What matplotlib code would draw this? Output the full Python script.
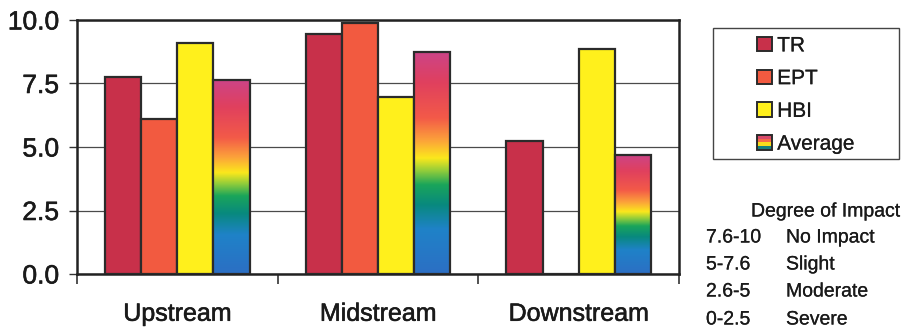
import numpy as np
import matplotlib
matplotlib.use("Agg")
import matplotlib.pyplot as plt
import matplotlib.patheffects as pe
from matplotlib.colors import LinearSegmentedColormap
from matplotlib.patches import Rectangle
from matplotlib.legend_handler import HandlerBase

plt.rcParams['font.family'] = ['Liberation Sans', 'DejaVu Sans']

# Data
sites = ["Upstream", "Midstream", "Downstream"]
series = ["TR", "EPT", "HBI", "Average"]
tr = [7.75, 9.45, 5.25]
ept = [6.1, 9.9, 0.0]
hbi = [9.1, 6.95, 8.85]
average = [7.65, 8.75, 4.7]
yticks = [0.0, 2.5, 5.0, 7.5, 10.0]
impact_ranges = ["7.6-10", "5-7.6", "2.6-5", "0-2.5"]
impact_labels = ["No Impact", "Slight", "Moderate", "Severe"]

solid_colors = ["#c8304a", "#f25a40", "#fff01c"]
edge = "#2b2b2b"
ink = "#1a1a1a"
heavy = [pe.withStroke(linewidth=0.4, foreground=ink)]
light = [pe.withStroke(linewidth=0.15, foreground=ink)]

# Rainbow fill used for the Average bars (bottom -> top)
rainbow = LinearSegmentedColormap.from_list("rainbow_fill", [
    (0.00, "#2c6fc4"),
    (0.20, "#1f82c8"),
    (0.31, "#08897e"),
    (0.40, "#1aa55a"),
    (0.46, "#8ccb3c"),
    (0.52, "#fbe81c"),
    (0.60, "#fca23a"),
    (0.70, "#f35a48"),
    (0.86, "#e0405e"),
    (1.00, "#cc4488"),
])

fig = plt.figure(figsize=(9.01, 3.33), dpi=100)
ax = fig.add_axes([77 / 901, 1 - 274 / 333, (679 - 77) / 901, (274 - 20) / 333])

x = np.arange(1, len(sites) + 1)
width = 0.18
offsets = [-0.27, -0.09, 0.09, 0.27]

for vals, col, off, name in zip([tr, ept, hbi], solid_colors, offsets[:3], series[:3]):
    ax.bar(x + off, vals, width, color=col, edgecolor=edge, linewidth=1.6,
           zorder=3, label=name)

grad = np.linspace(0, 1, 256).reshape(-1, 1)
for xi, v in zip(x, average):
    x0 = xi + offsets[3] - width / 2
    ax.imshow(grad, cmap=rainbow, origin="lower", aspect="auto",
              extent=(x0, x0 + width, 0, v), interpolation="bilinear", zorder=3)
avg_bars = ax.bar(x + offsets[3], average, width, facecolor="none",
                  edgecolor=edge, linewidth=1.6, zorder=4, label="Average")

ax.set_xlim(0.5, 3.5)
ax.set_ylim(0, 10)
ax.set_yticks(yticks)
ax.set_yticklabels([f"{t:.1f}" for t in yticks], fontsize=19, color=ink)
ax.set_xticks(x)
ax.set_xticklabels(sites, fontsize=18, color=ink)
ax.set_xticks([0.5, 1.5, 2.5, 3.5], minor=True)
ax.tick_params(axis="x", which="major", length=0, pad=20)
ax.tick_params(axis="x", which="minor", length=7, width=1.2, direction="out", color="#333")
ax.tick_params(axis="y", length=6, width=1.0, direction="out", pad=7, color="#333")
for t in ax.get_xticklabels() + ax.get_yticklabels():
    t.set_path_effects(heavy)

ax.grid(axis="y", color="#4a4a4a", linewidth=0.9, zorder=0)
ax.set_axisbelow(True)
for s in ax.spines.values():
    s.set_linewidth(1.8)
    s.set_color("#222")


class RainbowHandler(HandlerBase):
    def create_artists(self, legend, orig_handle, xdescent, ydescent,
                       width, height, fontsize, trans):
        bands = ["#15807e", "#f6dc1c", "#f46a48", "#d84a6a"]
        n = len(bands)
        arts = []
        for i, c in enumerate(bands):
            r = Rectangle((-xdescent, -ydescent + i * height / n), width, height / n,
                          facecolor=c, edgecolor="none", transform=trans)
            arts.append(r)
        frame = Rectangle((-xdescent, -ydescent), width, height, facecolor="none",
                          edgecolor=edge, linewidth=1.4, transform=trans)
        arts.append(frame)
        return arts


handles, labels = ax.get_legend_handles_labels()
hmap = {avg_bars: RainbowHandler()}

# Legend box frame
box = Rectangle((713 / 901, 1 - 159 / 333), (899 - 713) / 901, (159 - 28) / 333,
                transform=fig.transFigure, facecolor="white", edgecolor="#444",
                linewidth=1.0)
fig.patches.append(box)
leg = fig.legend(handles, labels, loc="center",
                 bbox_to_anchor=((713 + 899) / 2 / 901, 1 - 95 / 333),
                 frameon=False, fontsize=15, handlelength=0.7, handleheight=0.7,
                 handletextpad=0.25, labelspacing=0.66, borderpad=0.2,
                 handler_map=hmap)
for t in leg.get_texts():
    t.set_color(ink)
    t.set_path_effects(light)
for p in leg.legend_handles[:3]:
    p.set_linewidth(1.4)

# Degree of impact key
fig.text(826 / 901, 1 - 212 / 333, "Degree of Impact", fontsize=14,
         ha="center", va="center", color=ink, path_effects=light)
row_y = [238, 265, 292, 320]
for yy, rng, lab in zip(row_y, impact_ranges, impact_labels):
    fig.text(706 / 901, 1 - yy / 333, rng, fontsize=14, ha="left", va="center",
             color=ink, path_effects=light)
    fig.text(786 / 901, 1 - yy / 333, lab, fontsize=14, ha="left", va="center",
             color=ink, path_effects=light)

fig.savefig("out.png", dpi=100, facecolor="white")
